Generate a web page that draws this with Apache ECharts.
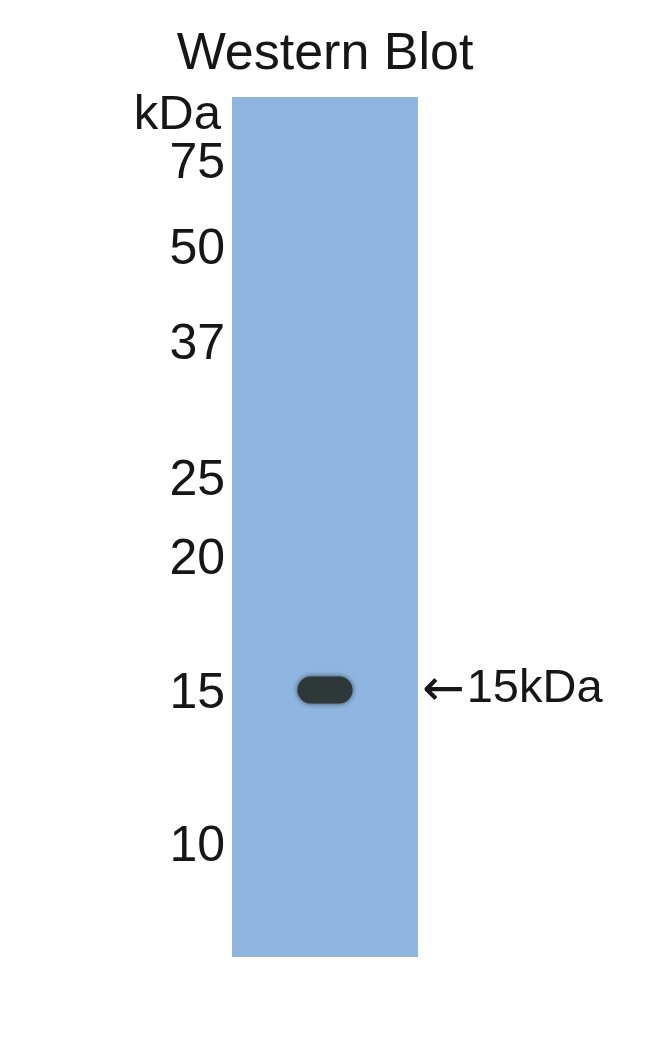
<!DOCTYPE html>
<html>
<head>
<meta charset="utf-8">
<script src="https://cdn.jsdelivr.net/npm/echarts@6/dist/echarts.min.js"></script>
<style>html,body{margin:0;padding:0;background:#fff}#c{width:650px;height:1057px}</style>
</head>
<body>
<div id="c"></div>
<script>
// Marker ladder (kDa) and their migration distance from the top of the lane (px-like units)
var markerLabels = ['75', '50', '37', '25', '20', '15', '10'];
var markerMigration = [67, 153, 248, 384, 463, 597, 750];
var unitLabel = 'kDa';
var unitMigration = 18;
// Detected band
var bandLane = [0.5];
var bandMigration = [593];
var bandArrow = '\u2190';
var bandLabel = '15kDa';
var titleText = 'Western Blot';

var FONT = 'Liberation Sans, Arial, sans-serif';
var TXT = '#161616';
var PILL = 'path://M13,0 L41,0 A13,13 0 0 1 41,26 L13,26 A13,13 0 0 1 13,0 Z';
var chart = echarts.init(document.getElementById('c'), null, {renderer: 'canvas'});
chart.setOption({
  animation: false,
  backgroundColor: '#ffffff',
  title: {
    text: titleText,
    left: 'center',
    top: 24,
    textStyle: {fontFamily: FONT, fontSize: 52, fontWeight: 'normal', color: TXT}
  },
  grid: {
    left: 232, top: 97, width: 186, height: 860,
    show: true, backgroundColor: '#90b5e0', borderWidth: 0
  },
  xAxis: {type: 'value', min: 0, max: 1, show: false},
  yAxis: {type: 'value', min: 0, max: 860, inverse: true, show: false},
  series: [
    {
      type: 'scatter', symbolSize: 0, silent: true, itemStyle: {opacity: 1},
      data: markerMigration.map(function (m, i) { return {value: [0, m], name: markerLabels[i]}; }),
      label: {
        show: true, position: 'left', distance: 7,
        formatter: function (p) { return p.name; },
        fontFamily: FONT, fontSize: 50, color: TXT
      }
    },
    {
      type: 'scatter', symbolSize: 0, silent: true, itemStyle: {opacity: 1},
      data: [{value: [0, unitMigration], name: unitLabel}],
      label: {
        show: true, position: 'left', distance: 11,
        formatter: function (p) { return p.name; },
        fontFamily: FONT, fontSize: 49, color: TXT
      }
    },
    {
      type: 'scatter', symbol: PILL, symbolSize: [55, 27], silent: true,
      data: bandLane.map(function (x, i) { return [x, bandMigration[i]]; }),
      itemStyle: {opacity: 1, color: '#2e3838', shadowBlur: 5, shadowColor: 'rgba(30,40,45,0.8)'}
    },
    {
      type: 'scatter', symbolSize: 0, silent: true, itemStyle: {opacity: 1},
      data: bandMigration.map(function (m) { return {value: [1, m - 1], name: bandLabel}; }),
      label: {
        show: true, position: 'right', distance: 4,
        formatter: function (p) { return '{a|' + bandArrow + '}{t|' + p.name + '}'; },
        rich: {
          a: {fontFamily: 'DejaVu Sans', fontSize: 51, color: TXT, padding: [6, 2, 0, 0]},
          t: {fontFamily: FONT, fontSize: 47, color: TXT}
        }
      }
    }
  ]
});
</script>
</body>
</html>
